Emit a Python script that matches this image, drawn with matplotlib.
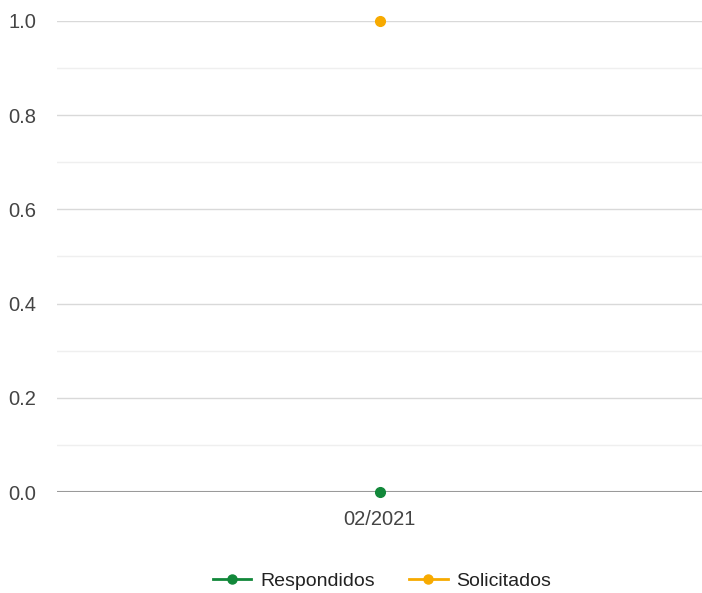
import numpy as np
import matplotlib.pyplot as plt
from matplotlib.lines import Line2D

plt.rcParams['font.family'] = ['Liberation Sans', 'DejaVu Sans']

# Chart data
months = ['02/2021']
respondidos = [0]
solicitados = [1]

green = '#12883a'
orange = '#f7aa00'

fig = plt.figure(figsize=(7.02, 5.93), dpi=100)
ax = fig.add_axes([57 / 702, 1 - 492 / 593, 1 - 57 / 702, (492 - 21) / 593])

x = np.arange(len(months))
ax.plot(x, respondidos, color=green, marker='o', markersize=7, linewidth=2, zorder=5, clip_on=False)
ax.plot(x, solicitados, color=orange, marker='o', markersize=7, linewidth=2, zorder=5, clip_on=False)

ax.set_xlim(-0.5, len(months) - 0.5)
ax.set_ylim(0, 1.0)
ax.set_yticks(np.arange(0, 1.01, 0.2))
ax.set_yticklabels([f'{v:.1f}' for v in np.arange(0, 1.01, 0.2)])
ax.set_yticks(np.arange(0.1, 1.0, 0.2), minor=True)
ax.set_xticks(x)
ax.set_xticklabels(months)

ax.grid(axis='y', which='major', color='#d9d9d9', linewidth=1)
ax.grid(axis='y', which='minor', color='#efefef', linewidth=1)
ax.axhline(0, color='#9a9a9a', linewidth=1.5, zorder=3)

for s in ax.spines.values():
    s.set_visible(False)
ax.tick_params(axis='both', which='both', length=0, labelsize=14.5, labelcolor='#444444')
ax.tick_params(axis='y', pad=15)
ax.tick_params(axis='x', pad=13)

handles = [
    Line2D([0], [0], color=green, marker='o', markersize=6.5, linewidth=2),
    Line2D([0], [0], color=orange, marker='o', markersize=6.5, linewidth=2),
]
fig.legend(handles, ['Respondidos', 'Solicitados'], loc='center', bbox_to_anchor=(382 / 702, 1 - 581 / 593),
           ncol=2, frameon=False, fontsize=14, handlelength=2.0, columnspacing=1.75, handletextpad=0.45,
           labelcolor='#222222')

fig.savefig('out.png', dpi=100)
